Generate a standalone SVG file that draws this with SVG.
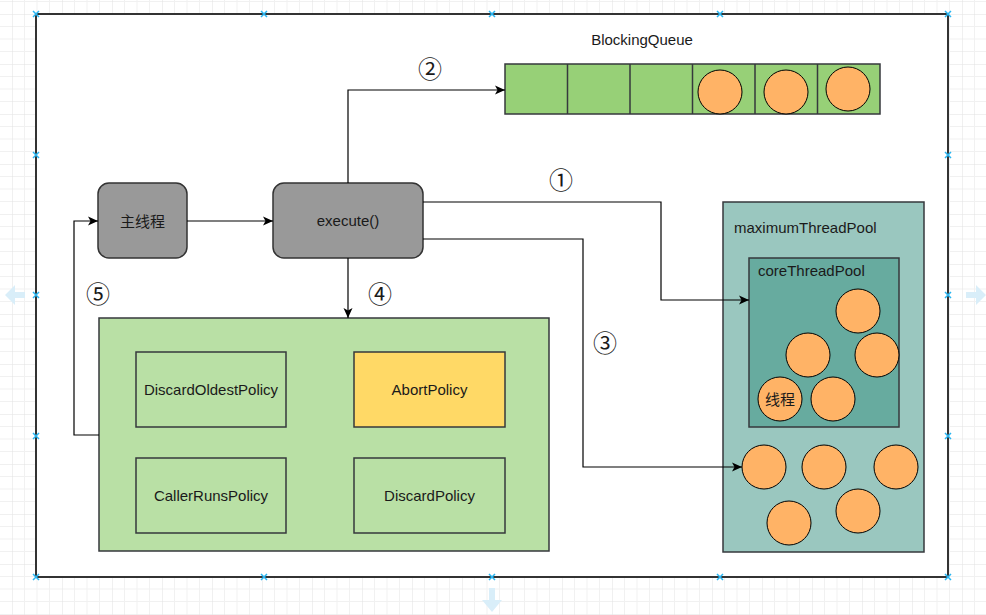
<svg xmlns="http://www.w3.org/2000/svg" width="986" height="615" viewBox="0 0 986 615">
<defs>
<pattern id="grid" patternUnits="userSpaceOnUse" x="12" y="14" width="50" height="50">
<path d="M12.5,0V50M25,0V50M37.5,0V50M0,12.5H50M0,25H50M0,37.5H50" stroke="#f1f1f1" stroke-width="1" fill="none"/>
<path d="M0,0V50M0,0H50" stroke="#e2e2e2" stroke-width="1" fill="none"/>
</pattern>
<marker id="arr" viewBox="0 0 10 10" refX="10" refY="5" markerWidth="10" markerHeight="10" markerUnits="userSpaceOnUse" orient="auto">
<path d="M0,0.5 L10,5 L0,9.5 L2.5,5 z" fill="#000"/>
</marker>
<symbol id="h" overflow="visible"><path d="M-3,-3L3,3M-3,3L3,-3" stroke="#29b6f2" stroke-width="1.5"/></symbol>
</defs>
<style>
text{font-family:"Liberation Sans",Arial,"Noto Sans CJK SC",sans-serif;fill:#1a1a1a}
.t{font-size:15px;text-anchor:middle;dominant-baseline:central}
.l{font-size:15px;dominant-baseline:central}
.n{font-family:"Noto Sans CJK SC","DejaVu Sans",sans-serif;font-size:24px;text-anchor:middle;dominant-baseline:central}
.c{fill:#FFB366;stroke:#000;stroke-width:1}
.box{stroke:#36393d;stroke-width:1.5}
.g{fill:#999999;stroke:#333;stroke-width:1.5}
.e{fill:none;stroke:#000;stroke-width:1.2}
.hint{fill:#d9eef9}
</style>
<rect width="986" height="615" fill="#fff"/>
<rect width="986" height="615" fill="url(#grid)"/>
<path class="hint" d="M966,292h10v-7l10,10l-10,10v-7h-10z"/>
<path class="hint" d="M25,292h-10v-7l-10,10l10,10v-7h10z"/>
<path class="hint" d="M489,588v12h-7l10,12l10,-12h-7v-12z"/>
<rect x="36" y="14" width="912" height="563" fill="#fff" stroke="#333" stroke-width="2"/>
<g id="handles">
<use href="#h" x="36" y="14"/><use href="#h" x="264" y="14"/><use href="#h" x="492" y="14"/><use href="#h" x="720" y="14"/><use href="#h" x="948" y="14"/>
<use href="#h" x="36" y="577"/><use href="#h" x="264" y="577"/><use href="#h" x="492" y="577"/><use href="#h" x="720" y="577"/><use href="#h" x="948" y="577"/>
<use href="#h" x="36" y="155"/><use href="#h" x="36" y="295"/><use href="#h" x="36" y="436"/>
<use href="#h" x="948" y="155"/><use href="#h" x="948" y="295"/><use href="#h" x="948" y="436"/>
</g>
<g id="blockingQueue">
<text class="t" x="642" y="39">BlockingQueue</text>
<rect class="box" x="505" y="64" width="375" height="50" fill="#97D077"/>
<path class="box" d="M567.5,64V114M630,64V114M692.5,64V114M755,64V114M817.5,64V114" fill="none"/>
<circle class="c" cx="720" cy="92" r="22"/>
<circle class="c" cx="786" cy="92" r="22"/>
<circle class="c" cx="848" cy="89" r="22"/>
</g>
<g id="mainThread">
<rect class="g" x="98" y="183" width="89" height="75" rx="11"/>
<text class="t" x="142.5" y="220" style="font-family:'Noto Sans CJK SC',sans-serif">主线程</text>
</g>
<g id="execute">
<rect class="g" x="273" y="183" width="150" height="75" rx="11"/>
<text class="t" x="348" y="220">execute()</text>
</g>
<g id="policies">
<rect class="box" x="99" y="318" width="450" height="233" fill="#B9E0A5"/>
<rect class="box" x="136" y="352" width="150" height="75" fill="#B9E0A5"/>
<text class="t" x="211" y="389">DiscardOldestPolicy</text>
<rect class="box" x="354" y="352" width="151" height="75" fill="#FFD966"/>
<text class="t" x="429.5" y="389">AbortPolicy</text>
<rect class="box" x="136" y="458" width="150" height="75" fill="#B9E0A5"/>
<text class="t" x="211" y="495">CallerRunsPolicy</text>
<rect class="box" x="354" y="458" width="151" height="75" fill="#B9E0A5"/>
<text class="t" x="429.5" y="495">DiscardPolicy</text>
</g>
<g id="maximumThreadPool">
<rect class="box" x="723" y="202" width="201" height="350" fill="#9AC7BF"/>
<text class="l" x="734" y="227">maximumThreadPool</text>
<circle class="c" cx="764" cy="467" r="22"/>
<circle class="c" cx="824" cy="467" r="22"/>
<circle class="c" cx="896" cy="467" r="22"/>
<circle class="c" cx="789" cy="523" r="22"/>
<circle class="c" cx="858" cy="511" r="22"/>
</g>
<g id="coreThreadPool">
<rect class="box" x="749" y="258" width="150" height="169" fill="#67AB9F"/>
<text class="l" x="758" y="270">coreThreadPool</text>
<circle class="c" cx="858" cy="311" r="22"/>
<circle class="c" cx="808" cy="355" r="22"/>
<circle class="c" cx="877" cy="355" r="22"/>
<circle class="c" cx="780" cy="399" r="22"/>
<text class="t" x="780" y="398" style="font-family:'Noto Sans CJK SC',sans-serif">线程</text>
<circle class="c" cx="833" cy="399" r="22"/>
</g>
<g id="connectors">
<path class="e" d="M187,221H273" marker-end="url(#arr)"/>
<path class="e" d="M348,183V90H505" marker-end="url(#arr)"/>
<path class="e" d="M423,202H661V300H749" marker-end="url(#arr)"/>
<path class="e" d="M423,239H583V467H742" marker-end="url(#arr)"/>
<path class="e" d="M348,258V318" marker-end="url(#arr)"/>
<path class="e" d="M99,435H74V221H98" marker-end="url(#arr)"/>
<text class="n" x="430" y="67">②</text>
<text class="n" x="561" y="178">①</text>
<text class="n" x="605" y="341">③</text>
<text class="n" x="380" y="292">④</text>
<text class="n" x="98" y="292">⑤</text>
</g>
</svg>
